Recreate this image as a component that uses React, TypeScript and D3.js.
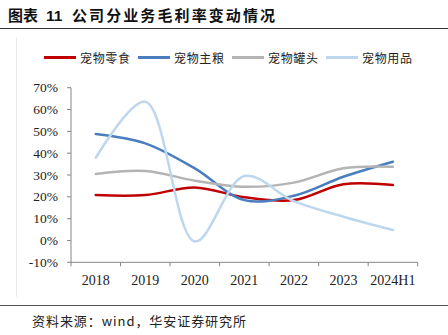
import React from 'react';
import * as d3 from 'd3';

const categories = ['2018', '2019', '2020', '2021', '2022', '2023', '2024H1'];
const snacks = [20.8, 20.8, 24.3, 19.8, 18.5, 25.8, 25.4];
const staple = [48.8, 44.5, 33.0, 18.5, 20.5, 29.2, 36.1];
const cans = [30.5, 31.8, 27.4, 24.6, 26.5, 33.1, 33.8];
const supplies = [37.9, 63.6, -0.5, 29.5, 18.0, 10.9, 4.8];
const seriesNames = ['宠物零食', '宠物主粮', '宠物罐头', '宠物用品'];
const seriesColors = ['#C00000', '#4A7EBF', '#B4B4B4', '#BDD7EE'];
const yTicks = [-10, 0, 10, 20, 30, 40, 50, 60, 70];

export default function App() {
  const W = 448, H = 335;
  const x = d3.scaleBand<string>().domain(categories).range([71, 417.7]);
  const y = d3.scaleLinear().domain([-10, 70]).range([262.3, 87.7]);
  const series = [snacks, staple, cans, supplies];
  const line = d3
    .line<number>()
    .x((_, i) => (x(categories[i]) as number) + x.bandwidth() / 2)
    .y((d) => y(d))
    .curve(d3.curveCatmullRom.alpha(0.5));
  const legendX = [44, 138, 232, 326];
  const axisColor = '#868686';
  return (
    <div style={{ position: 'fixed', left: 0, top: 0 }}>
      <svg width={W} height={H} style={{ display: 'block', background: '#fff' }}>
        {/* title */}
        <text x={8} y={21} fontFamily="'Noto Sans CJK SC'" fontWeight={700} fontSize={15} fill="#111">
          图表
        </text>
        <text x={46} y={21} fontFamily="'Liberation Sans', Arial" fontWeight={700} fontSize={15.5} fill="#111">
          11
        </text>
        <text x={72} y={21} fontFamily="'Noto Sans CJK SC'" fontWeight={700} fontSize={15} fill="#111" textLength={203} lengthAdjust="spacing">
          公司分业务毛利率变动情况
        </text>
        <line x1={0} x2={448} y1={28.5} y2={28.5} stroke="#333" strokeWidth={1} />
        {/* faint frame */}
        <line x1={16.5} x2={16.5} y1={37} y2={297} stroke="#ececec" strokeWidth={1} />
        {/* legend */}
        {seriesNames.map((name, i) => (
          <g key={name}>
            <line x1={legendX[i]} x2={legendX[i] + 32} y1={57.5} y2={57.5} stroke={seriesColors[i]} strokeWidth={3} />
            <text x={legendX[i] + 36} y={57.5} dominantBaseline="central" fontFamily="'Noto Sans CJK SC'" fontSize={12} fill="#222" textLength={50} lengthAdjust="spacing">
              {name}
            </text>
          </g>
        ))}
        {/* y axis */}
        <line x1={71} x2={71} y1={y(70)} y2={y(-10)} stroke={axisColor} strokeWidth={1} />
        {yTicks.map((t) => (
          <g key={t}>
            <line x1={67} x2={71} y1={y(t)} y2={y(t)} stroke={axisColor} strokeWidth={1} />
            <text x={58} y={y(t)} textAnchor="end" dominantBaseline="central" fontFamily="'Liberation Serif', 'Times New Roman'" fontSize={13.5} fill="#222">
              {t}%
            </text>
          </g>
        ))}
        {/* x axis */}
        <line x1={71} x2={417.7} y1={y(-10)} y2={y(-10)} stroke={axisColor} strokeWidth={1} />
        {[...categories.map((c) => x(c) as number), 417.7].map((px, i) => (
          <line key={i} x1={px} x2={px} y1={y(-10)} y2={y(-10) + 4} stroke={axisColor} strokeWidth={1} />
        ))}
        {categories.map((c) => (
          <text key={c} x={(x(c) as number) + x.bandwidth() / 2} y={280} textAnchor="middle" dominantBaseline="central" fontFamily="'Liberation Serif', 'Times New Roman'" fontSize={14} fill="#222">
            {c}
          </text>
        ))}
        {/* lines */}
        {series.map((s, i) => (
          <path key={i} d={line(s) || ''} fill="none" stroke={seriesColors[i]} strokeWidth={2.5} strokeLinecap="round" />
        ))}
        {/* footer */}
        <line x1={0} x2={448} y1={305.5} y2={305.5} stroke="#555" strokeWidth={1} />
        <text x={32} y={320} dominantBaseline="central" fontFamily="'Noto Sans CJK SC'" fontSize={13} fill="#222" textLength={214} lengthAdjust="spacing">
          资料来源：wind，华安证券研究所
        </text>
      </svg>
    </div>
  );
}
